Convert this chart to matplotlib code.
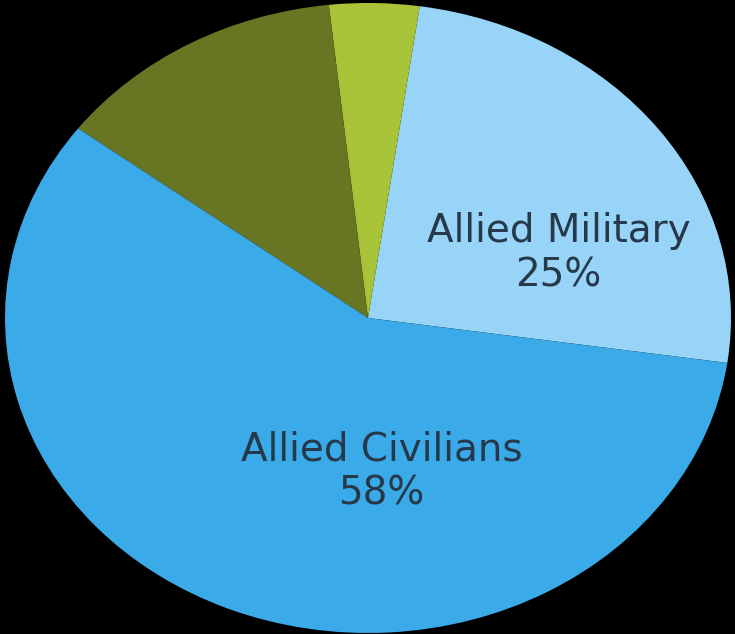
import matplotlib
matplotlib.use("Agg")
import matplotlib.pyplot as plt

# WWII deaths share
labels = ['Allied Military', 'Axis Civilians', 'Axis Military', 'Allied Civilians']
shares = [25, 4, 13, 58]
colors = ['#98d4f8', '#a8c337', '#687523', '#3aaae8']
shown = {'Allied Military': (0.525, 0.205), 'Allied Civilians': (0.037, -0.487)}

fig = plt.figure(figsize=(7.35, 6.34), dpi=100, facecolor='black')
ax = fig.add_axes([5 / 735, 1 / 634, 726 / 735, 630 / 634])
ax.set_facecolor('black')

ax.pie(shares, colors=colors, startangle=-8.2, counterclock=True,
       wedgeprops=dict(linewidth=0))
ax.set_aspect('auto')
ax.set_xlim(-1, 1)
ax.set_ylim(-1, 1)
ax.axis('off')

for lab, val in zip(labels, shares):
    if lab in shown:
        x, y = shown[lab]
        ax.text(x, y, f'{lab}\n{val}%', ha='center', va='center',
                fontsize=28, color='#26394a', linespacing=1.2,
                family='DejaVu Sans')

fig.savefig('out.png', dpi=100, facecolor='black')
